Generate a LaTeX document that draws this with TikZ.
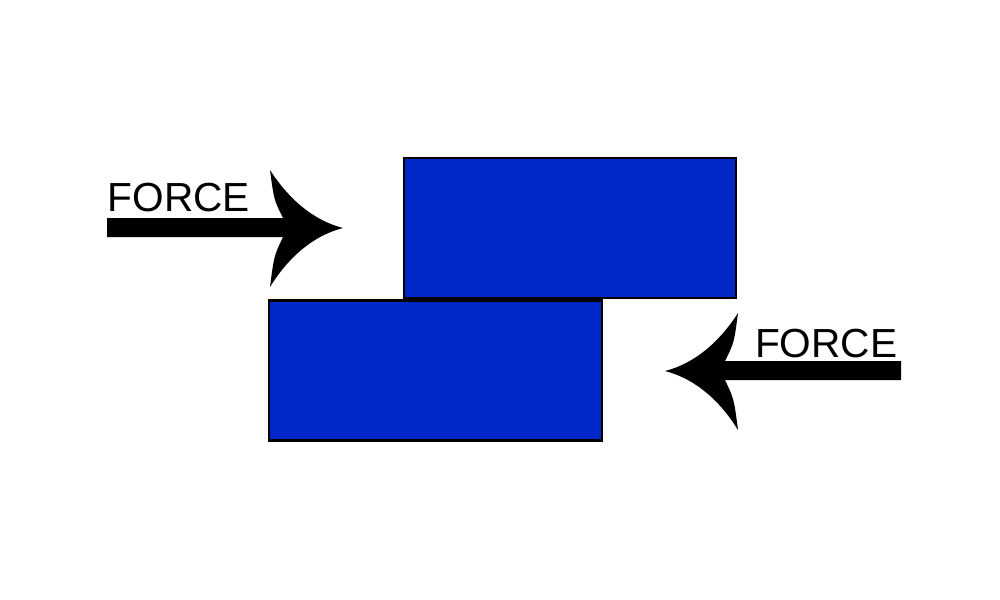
\documentclass[tikz,border=0pt]{standalone}
\usepackage{fontspec}
\setmainfont{Liberation Sans}
\usetikzlibrary{positioning}
\definecolor{blockblue}{RGB}{0,40,200}

\tikzset{
  block/.style={draw=black,line width=0.6pt,fill=blockblue,inner sep=0,minimum width=3.32cm,minimum height=1.40cm},
  forcelabel/.style={inner sep=0,font=\fontsize{11.55pt}{14pt}\selectfont},
  forcearrow/.pic={
    \fill (0,0) .. controls (-35,-9) and (-59,-36) .. (-73,-58) .. controls (-69,-28) .. (-60,-10)
      -- (-236,-10) -- (-236,9) -- (-60,9)
      .. controls (-69,28) .. (-73,59) .. controls (-59,36) and (-35,9) .. cycle;
  }
}

\begin{document}
\begin{tikzpicture}[x=0.01cm,y=-0.01cm]
\useasboundingbox (0,0) rectangle (1000,600);
% the two blocks
\node[block] (upperblock) at (570,228) {};
\node[block] (lowerblock) at (435.5,370.5) {};
% pushing from the left
\coordinate (lefttip) at (343,228);
\pic at (lefttip) {forcearrow};
\node[forcelabel,anchor=base west] (leftlabel) at (107,211) {FORCE};
% pushing from the right
\coordinate (righttip) at (665,371);
\pic[xscale=-1] at (righttip) {forcearrow};
\node[forcelabel,anchor=base east] (rightlabel) at (898,357) {FORCE};
\end{tikzpicture}
\end{document}
